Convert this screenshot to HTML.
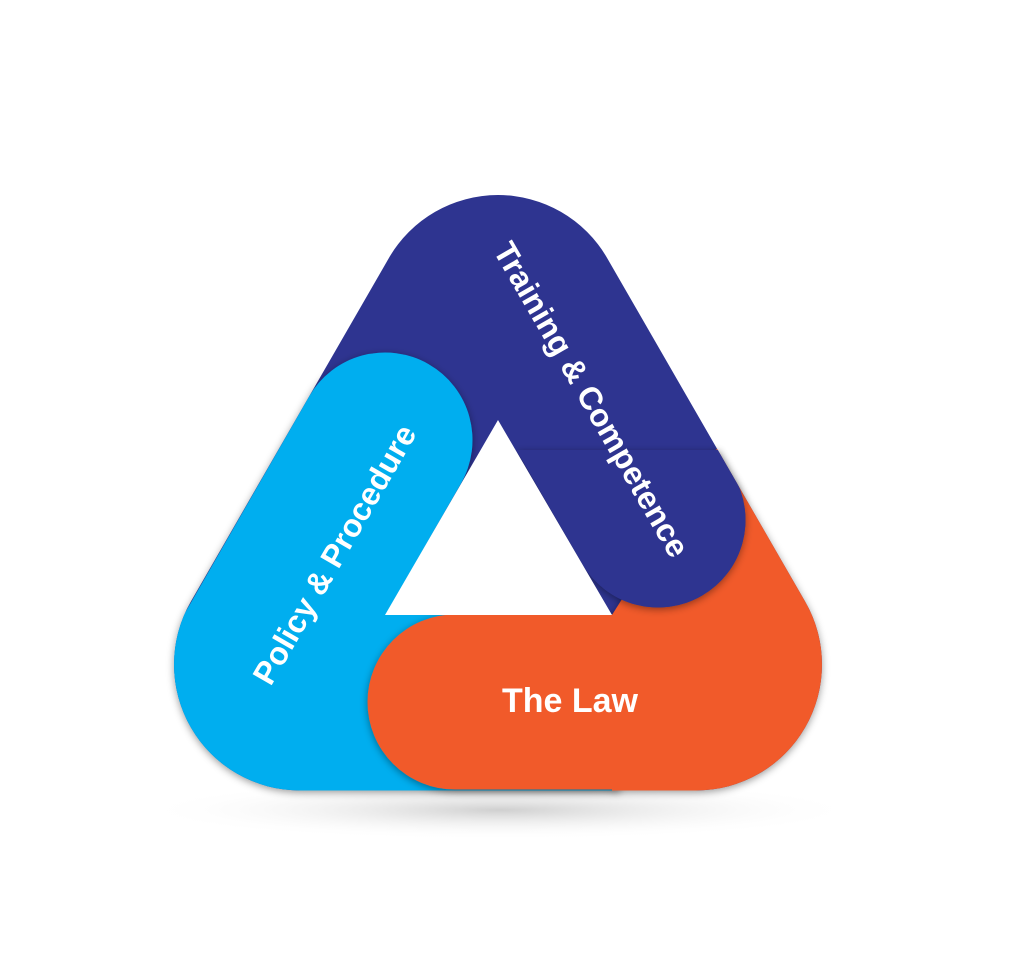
<!DOCTYPE html>
<html><head><meta charset="utf-8"><style>
html,body{margin:0;padding:0;background:#fff;width:1023px;height:978px;overflow:hidden}
text{font-family:"Liberation Sans",sans-serif;font-weight:bold;fill:#fff}
</style></head><body>
<svg width="1023" height="978" viewBox="0 0 1023 978" xmlns="http://www.w3.org/2000/svg">
<defs>
<radialGradient id="sh" cx="0.5" cy="0.5" r="0.5">
<stop offset="0" stop-color="#bbb" stop-opacity="0.7"/>
<stop offset="1" stop-color="#fff" stop-opacity="0"/>
</radialGradient>
<path id="outer" d="M388.9,258 A126,126 0 0 1 607.1,258 L805.1,601.5 A126,126 0 0 1 696,790.5 L300,790.5 A126,126 0 0 1 190.9,601.5 Z"/>
<mask id="mCyan" maskUnits="userSpaceOnUse" x="0" y="0" width="1023" height="978">
<line x1="385" y1="440" x2="150" y2="850" stroke="#fff" stroke-width="175" stroke-linecap="round"/>
<polygon points="150,650 385,615 620,615 620,900 150,900" fill="#fff"/>
</mask>
<mask id="mOrange" maskUnits="userSpaceOnUse" x="0" y="0" width="1023" height="978">
<line x1="455" y1="702" x2="950" y2="702" stroke="#fff" stroke-width="175" stroke-linecap="round"/>
<polygon points="612,615 735,420 950,420 950,900 612,900" fill="#fff"/>
</mask>
<mask id="mNavy" maskUnits="userSpaceOnUse" x="0" y="0" width="1023" height="978">
<rect x="0" y="0" width="1023" height="978" fill="#000"/>
<line x1="658" y1="520" x2="400" y2="73" stroke="#fff" stroke-width="175" stroke-linecap="round"/>
<rect x="0" y="0" width="1023" height="450" fill="#000"/>
</mask>
<filter id="ds" filterUnits="userSpaceOnUse" x="0" y="0" width="1023" height="978"><feDropShadow dx="0" dy="2" stdDeviation="4" flood-color="#000" flood-opacity="0.4"/></filter>
</defs>
<ellipse cx="500" cy="810" rx="360" ry="30" fill="url(#sh)"/>
<use href="#outer" fill="#2e3490"/>
<g filter="url(#ds)"><use href="#outer" fill="#00aeef" mask="url(#mCyan)"/></g>
<g filter="url(#ds)"><use href="#outer" fill="#f15a29" mask="url(#mOrange)"/></g>
<g filter="url(#ds)"><use href="#outer" fill="#2e3490" mask="url(#mNavy)"/></g>
<use href="#outer" fill="#2e3490" mask="url(#mNavy)"/>
<polygon points="498,420 385,615 612,615" fill="#fff"/>
<text x="0" y="0" font-size="32" text-anchor="middle" transform="translate(582,405) rotate(60)">Training &amp; Competence</text>
<text x="0" y="0" font-size="32" text-anchor="middle" transform="translate(344,560) rotate(-60)">Policy &amp; Procedure</text>
<text x="570" y="712" font-size="34" text-anchor="middle">The Law</text>
</svg>
</body></html>
